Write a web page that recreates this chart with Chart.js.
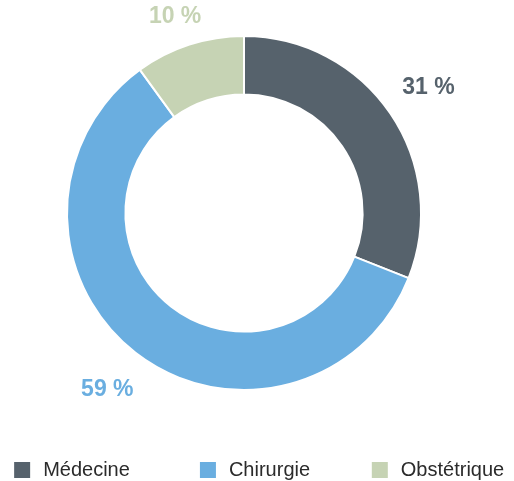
<!DOCTYPE html>
<html>
<head>
<meta charset="utf-8">
<script src="https://cdn.jsdelivr.net/npm/chart.js@4"></script>
<style>
    html, body { margin: 0; padding: 0; background: #fff; }
    #wrap { width: 514px; height: 481px; position: relative; }
</style>
</head>
<body>
<div id="wrap"><canvas id="chart"></canvas></div>
<script>
const categories = ['Médecine', 'Chirurgie', 'Obstétrique'];
const shares = [31, 59, 10];
const sliceColors = ['#56626c', '#6aaee0', '#c6d3b4'];

const fontFamily = '"Liberation Sans", Arial, Helvetica, sans-serif';

// percentage labels outside the ring, kept inside the canvas
const outerLabels = {
    id: 'outerLabels',
    afterDatasetsDraw(chart) {
        const { ctx } = chart;
        const meta = chart.getDatasetMeta(0);
        ctx.save();
        ctx.font = `bold 23px ${fontFamily}`;
        ctx.textAlign = 'center';
        ctx.textBaseline = 'middle';
        meta.data.forEach((arc, index) => {
            const { x, y, startAngle, endAngle, outerRadius } = arc.getProps(['x', 'y', 'startAngle', 'endAngle', 'outerRadius'], true);
            const mid = (startAngle + endAngle) / 2;
            const r = outerRadius + 46;
            const text = `${shares[index]} %`;
            const half = ctx.measureText(text).width / 2;
            let lx = x + Math.cos(mid) * r;
            let ly = y + Math.sin(mid) * r;
            lx = Math.min(Math.max(lx, half + 4), chart.width - half - 4);
            ly = Math.max(ly, 17);
            ctx.fillStyle = sliceColors[index];
            ctx.fillText(text, lx, ly);
        });
        ctx.restore();
    },
};

// legend spread over the bottom strip, one item per column
const spreadLegend = {
    id: 'spreadLegend',
    afterDraw(chart) {
        const { ctx } = chart;
        const step = 183;
        const mid = chart.width / 2 - 2;
        const y = 470;
        ctx.save();
        ctx.font = `20px ${fontFamily}`;
        ctx.textBaseline = 'middle';
        ctx.textAlign = 'left';
        categories.forEach((label, index) => {
            const itemWidth = 16 + 13 + ctx.measureText(label).width;
            const left = mid + (index - 1) * step - itemWidth / 2;
            ctx.fillStyle = sliceColors[index];
            ctx.fillRect(left, y - 8, 16, 16);
            ctx.fillStyle = '#2b2b2b';
            ctx.fillText(label, left + 29, y);
        });
        ctx.restore();
    },
};

new Chart(document.getElementById('chart'), {
    type: 'doughnut',
    data: {
        labels: categories,
        datasets: [{
            data: shares,
            backgroundColor: sliceColors,
            borderColor: '#ffffff',
            borderWidth: 2,
            hoverOffset: 0,
        }],
    },
    options: {
        responsive: true,
        maintainAspectRatio: false,
        animation: false,
        cutout: '67%',
        layout: {
            padding: { top: 35, left: 0, right: 26, bottom: 90 },
        },
        plugins: {
            legend: { display: false },
            tooltip: { enabled: false },
        },
    },
    plugins: [outerLabels, spreadLegend],
});
</script>
</body>
</html>
